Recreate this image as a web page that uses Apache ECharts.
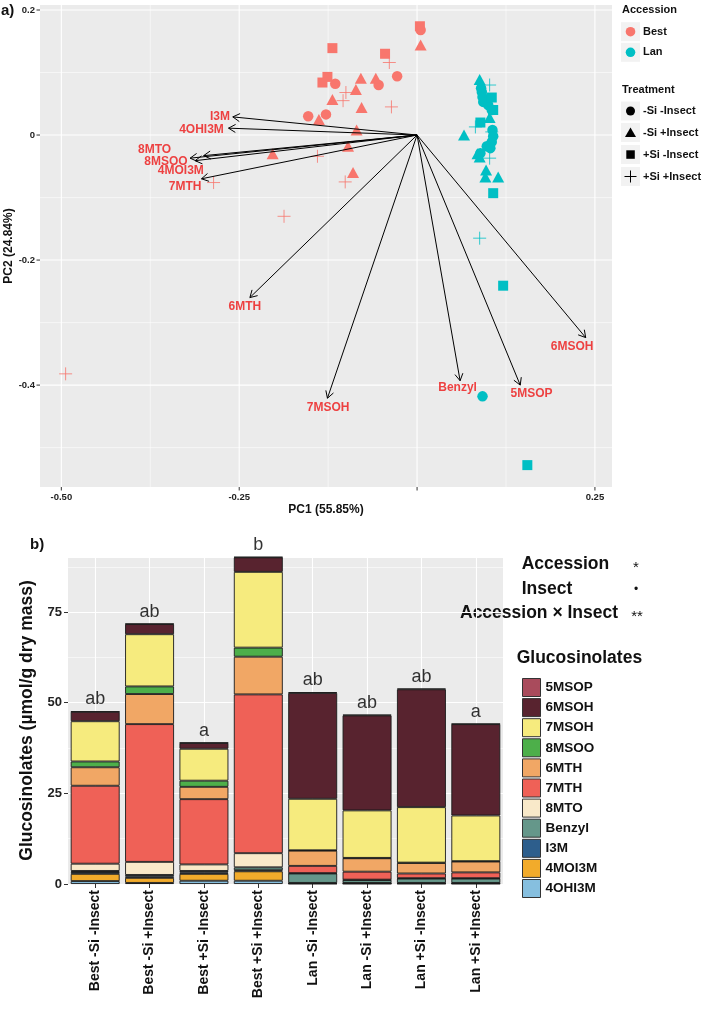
<!DOCTYPE html>
<html>
<head>
<meta charset="utf-8">
<script src="https://cdn.jsdelivr.net/npm/echarts@6/dist/echarts.min.js"></script>
<style>
  html, body { margin: 0; padding: 0; background: #fff; }
  #chart { width: 709px; height: 1010px; }
</style>
</head>
<body>
<div id="chart"></div>
<script>
var FONT = '"Liberation Sans", Arial, Helvetica, sans-serif';
var BEST = '#F8766D', LAN = '#00BFC4';

// ---- panel a) PCA scores, by accession and treatment
var bestCircle = [[0.005, 0.168], [-0.028, 0.094], [-0.054, 0.080], [-0.115, 0.082], [-0.153, 0.030], [-0.128, 0.033]];
var bestTriangle = [[0.005, 0.144], [-0.058, 0.091], [-0.079, 0.091], [-0.086, 0.073], [-0.119, 0.057], [-0.078, 0.044],
  [-0.138, 0.025], [-0.085, 0.008], [-0.097, -0.018], [-0.203, -0.030], [-0.090, -0.060]];
var bestSquare = [[-0.119, 0.139], [0.004, 0.174], [-0.045, 0.130], [-0.126, 0.093], [-0.133, 0.084]];
var bestPlus = [[-0.039, 0.116], [-0.100, 0.068], [-0.104, 0.055], [-0.036, 0.045], [-0.140, -0.034], [-0.101, -0.075],
  [-0.286, -0.076], [-0.187, -0.130], [-0.494, -0.382]];
var lanCircle = [[0.090, 0.075], [0.091, 0.069], [0.092, 0.061], [0.093, 0.053], [0.100, 0.048], [0.105, 0.040],
  [0.106, 0.008], [0.107, -0.002], [0.105, -0.011], [0.098, -0.018], [0.103, -0.021], [0.089, -0.029], [0.092, -0.418]];
var lanTriangle = [[0.088, 0.089], [0.102, 0.028], [0.066, 0.000], [0.088, -0.035], [0.085, -0.030], [0.097, -0.056],
  [0.096, -0.067], [0.114, -0.067]];
var lanSquare = [[0.105, 0.060], [0.107, 0.040], [0.089, 0.020], [0.107, -0.093], [0.121, -0.241], [0.155, -0.528]];
var lanPlus = [[0.102, 0.080], [0.082, 0.013], [0.102, -0.037], [0.105, 0.005], [0.088, -0.165]];

// loadings (arrow tips) and where their names sit
var loadingNames = ['I3M', '4OHI3M', '8MTO', '8MSOO', '4MOI3M', '7MTH', '6MTH', '7MSOH', 'Benzyl', '5MSOP', '6MSOH'];
var loadingX = [-0.259, -0.265, -0.319, -0.312, -0.300, -0.303, -0.235, -0.126, 0.0605, 0.145, 0.237];
var loadingY = [0.029, 0.011, -0.037, -0.041, -0.033, -0.070, -0.260, -0.421, -0.393, -0.400, -0.324];
var labelX = [-0.277, -0.303, -0.369, -0.353, -0.332, -0.326, -0.242, -0.125, 0.057, 0.161, 0.218];
var labelY = [0.029, 0.009, -0.024, -0.042, -0.057, -0.082, -0.274, -0.436, -0.404, -0.414, -0.339];

var pcaXRange = [-0.53, 0.274];
var pcaYRange = [-0.563, 0.208];
var pcaXMajor = [-0.5, -0.25, 0, 0.25];
var pcaXLabels = ['-0.50', '-0.25', '', '0.25'];
var pcaXMinor = [-0.375, -0.125, 0.125];
var pcaYMajor = [0.2, 0, -0.2, -0.4];
var pcaYLabels = ['0.2', '0', '-0.2', '-0.4'];
var pcaYMinor = [0.1, -0.1, -0.3, -0.5];

// ---- panel b) glucosinolate concentrations
var categories = ['Best -Si -Insect', 'Best -Si +Insect', 'Best +Si -Insect', 'Best +Si +Insect',
  'Lan -Si -Insect', 'Lan -Si +Insect', 'Lan +Si -Insect', 'Lan +Si +Insect'];
var g4OHI3M = [0.8, 0.3, 0.9, 0.9, 0.1, 0.1, 0.1, 0.1];
var g4MOI3M = [2.0, 1.4, 1.9, 2.6, 0.1, 0.1, 0.1, 0.1];
var gI3M = [0.5, 0.4, 0.4, 0.3, 0.1, 0.1, 0.1, 0.1];
var gBenzyl = [0.3, 0.4, 0.4, 0.8, 2.6, 0.8, 1.2, 1.2];
var g8MTO = [2.0, 3.6, 1.8, 3.9, 0.1, 0.1, 0.1, 0.1];
var g7MTH = [21.5, 38.0, 18.0, 43.8, 2.0, 2.2, 1.3, 1.6];
var g6MTH = [5.1, 8.3, 3.4, 10.4, 4.2, 3.7, 2.9, 3.0];
var g8MSOO = [1.6, 2.1, 1.7, 2.5, 0.1, 0.1, 0.1, 0.1];
var g7MSOH = [11.1, 14.4, 8.8, 20.9, 14.2, 13.1, 15.3, 12.6];
var g6MSOH = [2.6, 2.8, 1.6, 4.0, 29.2, 26.2, 32.5, 25.2];
var g5MSOP = [0.1, 0.1, 0.1, 0.1, 0.2, 0.2, 0.2, 0.1];
var letters = ['ab', 'ab', 'a', 'b', 'ab', 'ab', 'ab', 'a'];

// stacking order, bottom first
var glucoNames = ['4OHI3M', '4MOI3M', 'I3M', 'Benzyl', '8MTO', '7MTH', '6MTH', '8MSOO', '7MSOH', '6MSOH', '5MSOP'];
var glucoValues = [g4OHI3M, g4MOI3M, gI3M, gBenzyl, g8MTO, g7MTH, g6MTH, g8MSOO, g7MSOH, g6MSOH, g5MSOP];
var glucoColors = ['#86BFDF', '#F2AB2B', '#2D5E8C', '#65978A', '#F9E9C9', '#EF6157', '#F1A765', '#4DAF4A',
  '#F6EB7E', '#58232F', '#A94B5C'];

var totals = categories.map(function(c, i) {
  var s = 0;
  glucoValues.forEach(function(arr) { s += arr[i]; });
  return Math.round(s * 10) / 10;
});
var barMax = Math.max.apply(null, totals);

// gridlines/ticks for panel a, drawn through the axis scale
var pcaTicks = [];
pcaXMajor.forEach(function(v, i) { pcaTicks.push({dim: 'x', v: v, major: true, text: pcaXLabels[i]}); });
pcaXMinor.forEach(function(v) { pcaTicks.push({dim: 'x', v: v, major: false}); });
pcaYMajor.forEach(function(v, i) { pcaTicks.push({dim: 'y', v: v, major: true, text: pcaYLabels[i]}); });
pcaYMinor.forEach(function(v) { pcaTicks.push({dim: 'y', v: v, major: false}); });

function renderTick(params, api) {
  var t = pcaTicks[params.dataIndex];
  var lo = api.coord([pcaXRange[0], pcaYRange[0]]);
  var hi = api.coord([pcaXRange[1], pcaYRange[1]]);
  var kids = [];
  var w = t.major ? 1.1 : 0.55;
  if (t.dim === 'x') {
    var px = api.coord([t.v, 0])[0];
    kids.push({type: 'line', shape: {x1: px, y1: hi[1], x2: px, y2: lo[1]}, style: {stroke: '#fff', lineWidth: w}});
    if (t.major) {
      kids.push({type: 'line', shape: {x1: px, y1: lo[1], x2: px, y2: lo[1] + 3.5}, style: {stroke: '#333', lineWidth: 1}});
      kids.push({type: 'text', style: {text: t.text, x: px, y: lo[1] + 5, align: 'center', verticalAlign: 'top',
        font: 'bold 9.5px ' + FONT, fill: '#222'}});
    }
  } else {
    var py = api.coord([0, t.v])[1];
    kids.push({type: 'line', shape: {x1: lo[0], y1: py, x2: hi[0], y2: py}, style: {stroke: '#fff', lineWidth: w}});
    if (t.major) {
      kids.push({type: 'line', shape: {x1: lo[0] - 3.5, y1: py, x2: lo[0], y2: py}, style: {stroke: '#333', lineWidth: 1}});
      kids.push({type: 'text', style: {text: t.text, x: lo[0] - 5, y: py, align: 'right', verticalAlign: 'middle',
        font: 'bold 9.5px ' + FONT, fill: '#222'}});
    }
  }
  return {type: 'group', children: kids};
}

function renderArrow(params, api) {
  var o = api.coord([0, 0]);
  var p = api.coord([api.value(0), api.value(1)]);
  var a = Math.atan2(p[1] - o[1], p[0] - o[0]);
  var L = 8, th = Math.PI / 6;
  var h1 = [p[0] - L * Math.cos(a - th), p[1] - L * Math.sin(a - th)];
  var h2 = [p[0] - L * Math.cos(a + th), p[1] - L * Math.sin(a + th)];
  return {
    type: 'group',
    children: [
      {type: 'line', shape: {x1: o[0], y1: o[1], x2: p[0], y2: p[1]}, style: {stroke: '#000', lineWidth: 1}},
      {type: 'polyline', shape: {points: [h1, p, h2]}, style: {stroke: '#000', lineWidth: 1, fill: null}}
    ]
  };
}

var PLUS = 'path://M0,6L12,6M6,0L6,12';
function scoreSeries(name, data, color, shape) {
  var s = {
    name: name, type: 'scatter', xAxisIndex: 0, yAxisIndex: 0, data: data, z: 2, silent: true,
    itemStyle: {color: color, opacity: 1}
  };
  if (shape === 'circle') { s.symbol = 'circle'; s.symbolSize = 10.5; }
  if (shape === 'triangle') { s.symbol = 'triangle'; s.symbolSize = [12, 11]; }
  if (shape === 'square') { s.symbol = 'rect'; s.symbolSize = 10; }
  if (shape === 'plus') {
    s.symbol = PLUS; s.symbolSize = 13;
    s.itemStyle = {color: 'none', borderColor: color, borderWidth: 1};
  }
  return s;
}

var series = [
  {
    type: 'custom', name: 'pca-grid', xAxisIndex: 0, yAxisIndex: 0, z: 1, silent: true, clip: false,
    renderItem: renderTick,
    data: pcaTicks.map(function(t) { return t.dim === 'x' ? [t.v, pcaYRange[0]] : [pcaXRange[0], t.v]; })
  },
  scoreSeries('Best -Si -Insect', bestCircle, BEST, 'circle'),
  scoreSeries('Best -Si +Insect', bestTriangle, BEST, 'triangle'),
  scoreSeries('Best +Si -Insect', bestSquare, BEST, 'square'),
  scoreSeries('Best +Si +Insect', bestPlus, BEST, 'plus'),
  scoreSeries('Lan -Si -Insect', lanCircle, LAN, 'circle'),
  scoreSeries('Lan -Si +Insect', lanTriangle, LAN, 'triangle'),
  scoreSeries('Lan +Si -Insect', lanSquare, LAN, 'square'),
  scoreSeries('Lan +Si +Insect', lanPlus, LAN, 'plus'),
  {
    type: 'custom', name: 'loadings', xAxisIndex: 0, yAxisIndex: 0, z: 3, silent: true, clip: false,
    renderItem: renderArrow,
    data: loadingX.map(function(x, i) { return [x, loadingY[i]]; })
  },
  {
    type: 'scatter', name: 'loading-labels', xAxisIndex: 0, yAxisIndex: 0, z: 4, silent: true,
    symbolSize: 0.1, itemStyle: {color: 'rgba(0,0,0,0)'},
    label: {show: true, position: 'inside', formatter: '{b}', color: '#EE1515',
      fontFamily: FONT, fontWeight: 'bold', fontSize: 12},
    data: labelX.map(function(x, i) { return {name: loadingNames[i], value: [x, labelY[i]]}; })
  }
];

glucoNames.forEach(function(n, k) {
  series.push({
    name: n, type: 'bar', stack: 'gluc', xAxisIndex: 1, yAxisIndex: 1, barWidth: '90%', z: 2,
    itemStyle: {color: glucoColors[k], borderColor: '#1a1a1a', borderWidth: 0.9},
    data: glucoValues[k]
  });
});
series.push({
  type: 'scatter', name: 'letters', xAxisIndex: 1, yAxisIndex: 1, z: 5, silent: true, clip: false,
  symbolSize: 0.1, itemStyle: {color: 'rgba(0,0,0,0)'},
  label: {show: true, position: 'top', distance: 3, color: '#000', fontFamily: FONT, fontSize: 18,
    formatter: function(p) { return letters[p.dataIndex]; }},
  data: totals
});

function txt(x, y, text, size, weight, align) {
  return {type: 'text', x: x, y: y, silent: true,
    style: {text: text, font: (weight || 'bold') + ' ' + size + 'px ' + FONT, fill: '#111',
      align: align || 'left', verticalAlign: 'middle'}};
}
function keyBox(y) {
  return {type: 'rect', shape: {x: 621, y: y - 9.5, width: 19, height: 19}, style: {fill: '#F2F2F2'}, silent: true};
}

var graphics = [
  txt(1, 11, 'a)', 15),
  txt(30, 545, 'b)', 15),
  // accession / treatment legend of panel a
  txt(622, 10, 'Accession', 11),
  keyBox(31.7), {type: 'circle', shape: {cx: 630.5, cy: 31.7, r: 4.8}, style: {fill: BEST}},
  txt(643, 31.7, 'Best', 11),
  keyBox(52.3), {type: 'circle', shape: {cx: 630.5, cy: 52.3, r: 4.8}, style: {fill: LAN}},
  txt(643, 52.3, 'Lan', 11),
  txt(622, 90, 'Treatment', 11),
  keyBox(111), {type: 'circle', shape: {cx: 630.5, cy: 111, r: 4.5}, style: {fill: '#000'}},
  txt(643, 111, '-Si -Insect', 11),
  keyBox(132.5), {type: 'polygon', shape: {points: [[630.5, 127.5], [636, 137], [625, 137]]}, style: {fill: '#000'}},
  txt(643, 132.5, '-Si +Insect', 11),
  keyBox(154.5), {type: 'rect', shape: {x: 626.3, y: 150.3, width: 8.5, height: 8.5}, style: {fill: '#000'}},
  txt(643, 154.5, '+Si -Insect', 11),
  keyBox(176.5),
  {type: 'line', shape: {x1: 624.5, y1: 176.5, x2: 636.5, y2: 176.5}, style: {stroke: '#000', lineWidth: 1}},
  {type: 'line', shape: {x1: 630.5, y1: 170.5, x2: 630.5, y2: 182.5}, style: {stroke: '#000', lineWidth: 1}},
  txt(643, 176.5, '+Si +Insect', 11),
  // significance table of panel b
  txt(521.7, 564.5, 'Accession', 17.5),
  txt(636, 568, '*', 15, 'normal', 'center'),
  txt(521.7, 589, 'Insect', 17.5),
  txt(636, 590, '•', 12, 'normal', 'center'),
  txt(460, 613.5, 'Accession × Insect', 17.5),
  txt(637, 617, '**', 15, 'normal', 'center'),
  txt(516.7, 658.5, 'Glucosinolates', 17.5)
];

var chart = echarts.init(document.getElementById('chart'));
chart.setOption({
  animation: false,
  backgroundColor: '#fff',
  textStyle: {fontFamily: FONT},
  grid: [
    {left: 40, top: 5, width: 572, height: 482, show: true, backgroundColor: '#EBEBEB', borderWidth: 0,
      containLabel: false, outerBoundsMode: 'none'},
    {left: 68, top: 557, width: 435, height: 327, show: true, backgroundColor: '#EBEBEB', borderWidth: 0,
      containLabel: false, outerBoundsMode: 'none'}
  ],
  xAxis: [
    {
      gridIndex: 0, type: 'value', min: pcaXRange[0], max: pcaXRange[1],
      axisLine: {show: false}, axisTick: {show: false}, axisLabel: {show: false}, splitLine: {show: false},
      name: 'PC1 (55.85%)', nameLocation: 'middle', nameGap: 17,
      nameTextStyle: {fontFamily: FONT, fontWeight: 'bold', fontSize: 12, color: '#111'}
    },
    {
      gridIndex: 1, type: 'category', data: categories,
      axisLine: {show: false},
      axisTick: {show: true, alignWithLabel: true, length: 4, lineStyle: {color: '#333'}},
      axisLabel: {rotate: 90, interval: 0, margin: 6, color: '#111', fontFamily: FONT, fontWeight: 'bold', fontSize: 14},
      splitLine: {show: true, alignWithLabel: true, lineStyle: {color: '#fff', width: 1.1}}
    }
  ],
  yAxis: [
    {
      gridIndex: 0, type: 'value', min: pcaYRange[0], max: pcaYRange[1],
      axisLine: {show: false}, axisTick: {show: false}, axisLabel: {show: false}, splitLine: {show: false},
      name: 'PC2 (24.84%)', nameLocation: 'middle', nameGap: 25,
      nameTextStyle: {fontFamily: FONT, fontWeight: 'bold', fontSize: 12, color: '#111'}
    },
    {
      gridIndex: 1, type: 'value', min: 0, max: barMax, interval: 25,
      axisLine: {show: false},
      axisTick: {show: true, length: 4, lineStyle: {color: '#333'}},
      axisLabel: {showMaxLabel: false, margin: 6, color: '#222', fontFamily: FONT, fontWeight: 'bold', fontSize: 13},
      splitLine: {show: true, lineStyle: {color: '#fff', width: 1.1}},
      name: 'Glucosinolates (µmol/g dry mass)', nameLocation: 'middle', nameGap: 31,
      nameTextStyle: {fontFamily: FONT, fontWeight: 'bold', fontSize: 17.5, color: '#111'}
    },
    {
      gridIndex: 1, type: 'value', min: 0, max: barMax, interval: 12.5, position: 'left',
      axisLine: {show: false}, axisTick: {show: false}, axisLabel: {show: false},
      splitLine: {show: true, lineStyle: {color: '#fff', width: 0.55}}
    }
  ],
  legend: {
    data: glucoNames.slice().reverse(),
    orient: 'vertical', left: 517, top: 673,
    itemWidth: 18, itemHeight: 18, itemGap: 1.1, icon: 'rect', selectedMode: false,
    itemStyle: {borderColor: '#333', borderWidth: 1},
    textStyle: {fontFamily: FONT, fontWeight: 'bold', fontSize: 13.5, color: '#111'}
  },
  graphic: graphics,
  series: series
});
</script>
</body>
</html>
